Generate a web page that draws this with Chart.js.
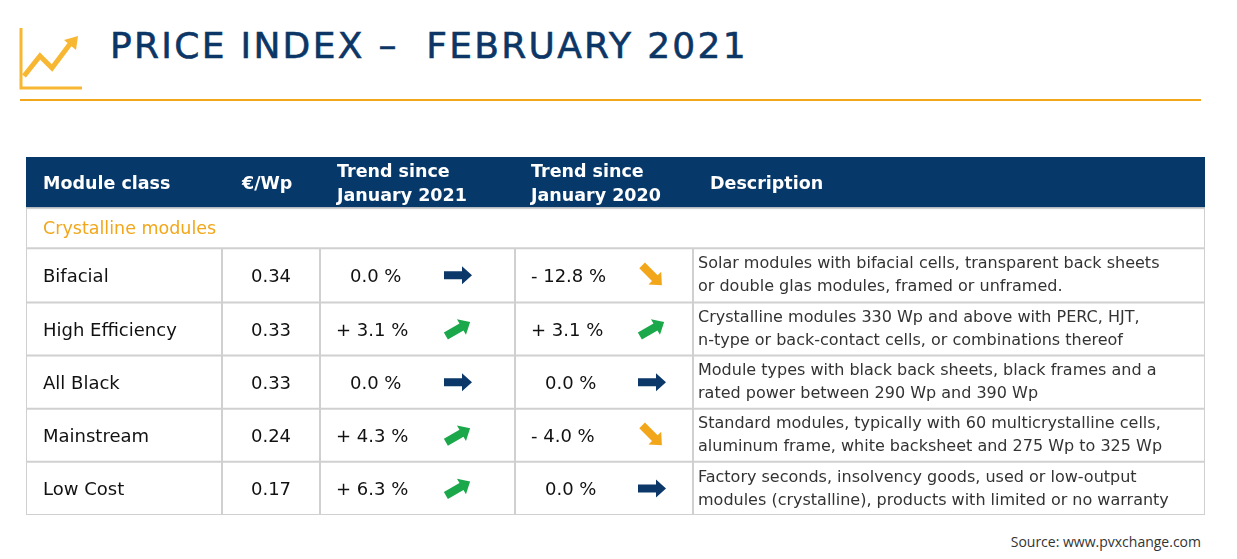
<!DOCTYPE html>
<html><head><meta charset="utf-8">
<script src="https://cdn.jsdelivr.net/npm/chart.js@4"></script>
<style>
body{margin:0;width:1237px;height:559px;background:#fff;font-family:"DejaVu Sans",sans-serif;position:relative;overflow:hidden}
#title{position:absolute;left:110px;top:25px;font-size:36px;color:#0c3666;letter-spacing:2.3px;white-space:pre;-webkit-text-stroke:0.6px #0c3666}
#rule{position:absolute;left:20px;top:99px;width:1181px;height:2px;background:#f2a71b}
#src{position:absolute;right:36px;top:532px;font-size:14px;color:#333;font-family:"Open Sans",sans-serif}
#wrap{position:absolute;left:26px;top:157px;width:1179px;height:358px}
svg{position:absolute;left:18px;top:28px}
</style></head><body>
<svg width="66" height="62"><polyline points="3,0 3,60 64,60" fill="none" stroke="#f7b733" stroke-width="3"/><polyline points="6,48 22,28 34,40 52,16" fill="none" stroke="#f7b733" stroke-width="5"/><polygon points="46,12 60,8 58,22" fill="#f7b733"/></svg>
<div id="title">PRICE INDEX –  FEBRUARY 2021</div>
<div id="rule"></div>
<div id="wrap"><canvas id="c"></canvas></div>
<div id="src">Source: www.pvxchange.com</div>
<script>
const headers=["Module class","€/Wp","Trend since\nJanuary 2021","Trend since\nJanuary 2020","Description"];
const groupLabel="Crystalline modules";
const classes=["Bifacial","High Efficiency","All Black","Mainstream","Low Cost"];
const prices=[0.34,0.33,0.33,0.24,0.17];
const trendJan2021=[0.0,3.1,0.0,4.3,6.3];
const trendJan2020=[-12.8,3.1,0.0,-4.0,0.0];
const descriptions=[
"Solar modules with bifacial cells, transparent back sheets\nor double glas modules, framed or unframed.",
"Crystalline modules 330 Wp and above with PERC, HJT,\nn-type or back-contact cells, or combinations thereof",
"Module types with black back sheets, black frames and a\nrated power between 290 Wp and 390 Wp",
"Standard modules, typically with 60 multicrystalline cells,\naluminum frame, white backsheet and 275 Wp to 325 Wp",
"Factory seconds, insolvency goods, used or low-output\nmodules (crystalline), products with limited or no warranty"];
const colEdges=[0,196,294,489,667,1179];
const rowEdges=[0,51,91,145,198,251,304,357];
const NAVY="#0b3868",ORANGE="#f2a71b",GREEN="#1aa84a",GRID="#d0d0d0";
function fmt(v){const s=Math.abs(v).toFixed(1)+" %";return v>0?"+ "+s:v<0?"- "+s:s;}
function arrow(ctx,x,y,v){
  ctx.save();ctx.translate(x,y);
  let col=NAVY,ang=0;
  if(v>0){col=GREEN;ang=-Math.PI/6;} else if(v<0){col=ORANGE;ang=Math.PI/4;}
  ctx.rotate(ang);ctx.fillStyle=col;
  ctx.beginPath();ctx.moveTo(-14,-4);ctx.lineTo(4,-4);ctx.lineTo(4,-9);ctx.lineTo(14,0);ctx.lineTo(4,9);ctx.lineTo(4,4);ctx.lineTo(-14,4);ctx.closePath();ctx.fill();
  ctx.restore();
}
const tablePlugin={id:"tbl",afterDraw(ch){
  const c=ch.ctx,X=ch.scales.x,Y=ch.scales.y;
  const px=v=>X.getPixelForValue(v),py=v=>Y.getPixelForValue(v);
  c.save();
  c.fillStyle="#06386a";c.fillRect(px(0),py(rowEdges[0]),px(1179)-px(0),py(rowEdges[1])-py(rowEdges[0]));
  c.fillStyle="#fff";c.font="bold 17.5px 'DejaVu Sans'";c.textBaseline="middle";
  const hx=[17,216,311,505,684];
  headers.forEach((h,i)=>{const ls=h.split("\n");const cy=(py(rowEdges[0])+py(rowEdges[1]))/2;
    ls.forEach((l,j)=>{c.textAlign="left";c.fillText(l,px(hx[i]),cy+(j-(ls.length-1)/2)*24+2);});});
  c.fillStyle=ORANGE;c.font="17.5px 'DejaVu Sans'";c.textAlign="left";
  c.fillText(groupLabel,px(17),(py(rowEdges[1])+py(rowEdges[2]))/2+1);
  c.strokeStyle=GRID;c.lineWidth=2;
  c.strokeRect(px(0),py(rowEdges[1]),px(1179)-px(0),py(357)-py(rowEdges[1]));
  for(let r=2;r<rowEdges.length-1;r++){c.beginPath();c.moveTo(px(0),py(rowEdges[r]));c.lineTo(px(1179),py(rowEdges[r]));c.stroke();}
  for(let k=1;k<colEdges.length-1;k++){c.beginPath();c.moveTo(px(colEdges[k]),py(rowEdges[2]));c.lineTo(px(colEdges[k]),py(357));c.stroke();}
  classes.forEach((name,i)=>{
    const cy=(py(rowEdges[i+2])+py(rowEdges[i+3]))/2+2;
    c.fillStyle="#111";c.font="18px 'DejaVu Sans'";c.textAlign="left";
    c.fillText(name,px(17),cy);
    c.textAlign="center";c.fillText(prices[i].toFixed(2),px(245),cy);
    c.textAlign="left";c.fillText(fmt(trendJan2021[i]),px(trendJan2021[i]===0?324:310),cy);
    c.fillText(fmt(trendJan2020[i]),px(trendJan2020[i]===0?519:505),cy);
    arrow(c,px(432),cy-2,trendJan2021[i]);arrow(c,px(626),cy-2,trendJan2020[i]);
    c.fillStyle="#333";c.font="16px 'DejaVu Sans'";
    descriptions[i].split("\n").forEach((l,j)=>c.fillText(l,px(672),cy-13+j*23));
  });
  c.restore();
}};
new Chart(document.getElementById("c"),{type:"scatter",data:{datasets:[{data:[]}]},
 options:{responsive:true,maintainAspectRatio:false,animation:false,layout:{padding:0},
  plugins:{legend:{display:false},tooltip:{enabled:false}},
  scales:{x:{type:"linear",min:0,max:1179,display:false},y:{type:"linear",min:0,max:357,reverse:true,display:false}}},
 plugins:[tablePlugin]});
</script></body></html>
